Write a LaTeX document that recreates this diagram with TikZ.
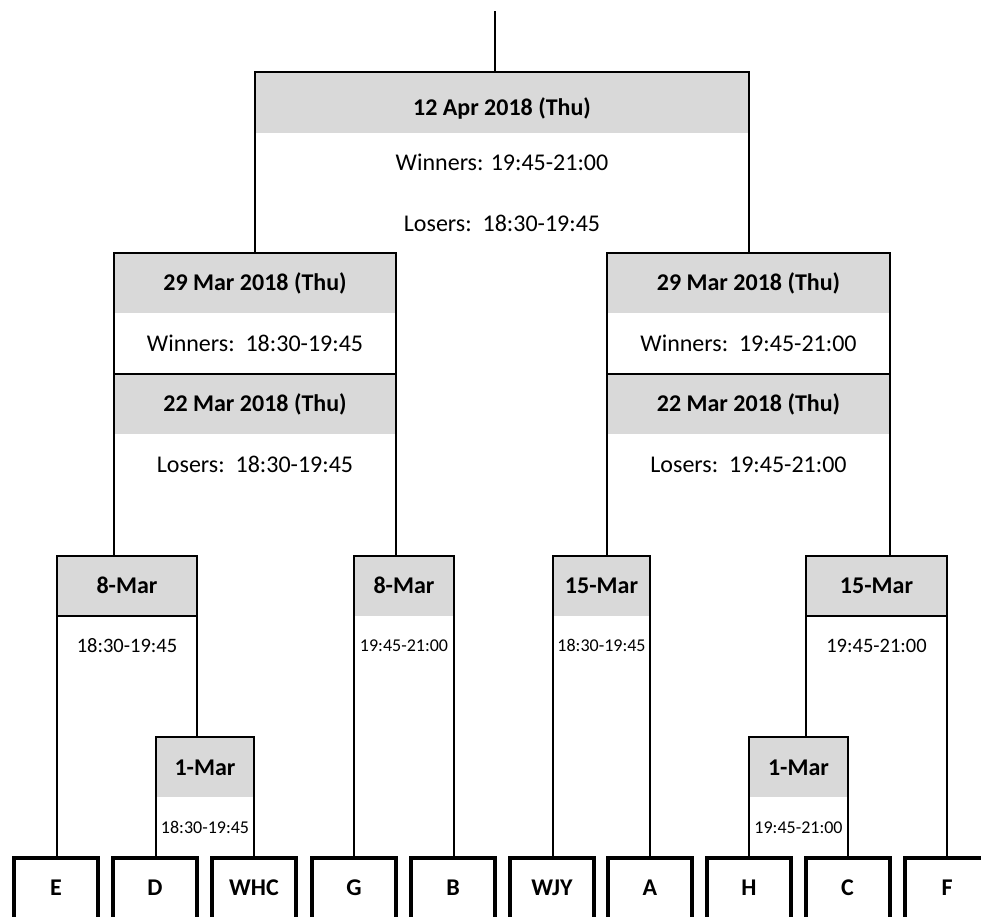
\documentclass[tikz,border=0pt]{standalone}
\usepackage{fontspec}
\setmainfont{Carlito}
\definecolor{hdrgray}{RGB}{217,217,217}
\begin{document}
\begin{tikzpicture}[x=1pt,y=-1pt,line width=2pt,
  hdr/.style={fill=hdrgray,draw=none,inner sep=0pt,outer sep=0pt},
  bold/.style={inner sep=0pt,anchor=base,font=\bfseries\fontsize{24}{28}\selectfont},
  big/.style={inner sep=0pt,anchor=base,font=\fontsize{24}{28}\selectfont},
  mid/.style={inner sep=0pt,anchor=base,font=\fontsize{20.5}{24}\selectfont},
  small/.style={inner sep=0pt,anchor=base,font=\fontsize{18}{22}\selectfont},
  team/.style={minimum width=84pt,minimum height=60pt,inner sep=0pt,outer sep=0pt,
    text height=15.5pt,text depth=0pt,font=\bfseries\fontsize{24}{28}\selectfont},
  teamline/.style={line width=4pt}]
\useasboundingbox (0,0) rectangle (981,916);
\clip (0,0) rectangle (981,916);

% header fills
\node[hdr,minimum width=494pt,minimum height=61pt] (topH) at (502,102.5) {};
\node[hdr,minimum width=282pt,minimum height=60pt] (lmH1) at (255,283) {};
\node[hdr,minimum width=282pt,minimum height=60pt] (lmH2) at (255,404) {};
\node[hdr,minimum width=283pt,minimum height=60pt] (rmH1) at (748.5,283) {};
\node[hdr,minimum width=283pt,minimum height=60pt] (rmH2) at (748.5,404) {};
\node[hdr,minimum width=140pt,minimum height=60pt] (m8L) at (127,586) {};
\node[hdr,minimum width=100pt,minimum height=60pt] (m8R) at (404,586) {};
\node[hdr,minimum width=97pt,minimum height=60pt] (m15L) at (601.5,586) {};
\node[hdr,minimum width=141pt,minimum height=60pt] (m15R) at (876.5,586) {};
\node[hdr,minimum width=98pt,minimum height=60pt] (m1L) at (205,767) {};
\node[hdr,minimum width=99pt,minimum height=60pt] (m1R) at (798.5,767) {};

% texts
\node[bold] (tTop) at (502,115) {12 Apr 2018 (Thu)};
\node[big] (tTopW) at (502,170.5) {Winners: 19:45-21:00};
\node[big] (tTopL) at (502,231.5) {Losers:\ \ 18:30-19:45};
\node[bold] (tL1) at (255,290.5) {29 Mar 2018 (Thu)};
\node[big] (tL1W) at (255,351.5) {Winners:\ \ 18:30-19:45};
\node[bold] (tL2) at (255,411.5) {22 Mar 2018 (Thu)};
\node[big] (tL2L) at (255,472) {Losers:\ \ 18:30-19:45};
\node[bold] (tR1) at (748.5,290.5) {29 Mar 2018 (Thu)};
\node[big] (tR1W) at (748.5,351.5) {Winners:\ \ 19:45-21:00};
\node[bold] (tR2) at (748.5,411.5) {22 Mar 2018 (Thu)};
\node[big] (tR2L) at (748.5,472) {Losers:\ \ 19:45-21:00};
\node[bold] (t8L) at (127,593) {8-Mar};
\node[mid] (t8Lt) at (127,652) {18:30-19:45};
\node[bold] (t8R) at (404,593) {8-Mar};
\node[small] (t8Rt) at (404,651.5) {19:45-21:00};
\node[bold] (t15L) at (601.5,593) {15-Mar};
\node[small] (t15Lt) at (601.5,651.5) {18:30-19:45};
\node[bold] (t15R) at (876.5,593) {15-Mar};
\node[mid] (t15Rt) at (876.5,652) {19:45-21:00};
\node[bold] (t1L) at (205,775) {1-Mar};
\node[small] (t1Lt) at (205,833) {18:30-19:45};
\node[bold] (t1R) at (798.5,775) {1-Mar};
\node[small] (t1Rt) at (798.5,833) {19:45-21:00};

% teams
\node[team] (E) at (56,888) {E};
\node[team] (D) at (155,888) {D};
\node[team] (WHC) at (254,888) {WHC};
\node[team] (G) at (354,888) {G};
\node[team] (B) at (453,888) {B};
\node[team] (WJY) at (552,888) {WJY};
\node[team] (A) at (650,888) {A};
\node[team] (H) at (749,888) {H};
\node[team] (C) at (847.5,888) {C};
\node[team] (F) at (947,888) {F};
\foreach \t in {E,D,WHC,G,B,WJY,A,H,C,F}
  \draw[teamline] (\t.south west) -- (\t.north west) -- (\t.north east) -- (\t.south east);

% root line
\coordinate (root) at (495,11);
\draw (root) -- (root |- topH.north);
% final box
\draw (topH.north west |- lmH1.north) -- (topH.north west) -- (topH.north east) -- (topH.north east |- rmH1.north);
% left middle box
\draw (lmH1.north west |- m8L.north) -- (lmH1.north west) -- (lmH1.north east) -- (lmH1.north east |- m8R.north);
\draw (lmH2.north west) -- (lmH2.north east);
% right middle box
\draw (rmH1.north west |- m15L.north) -- (rmH1.north west) -- (rmH1.north east) -- (rmH1.north east |- m15R.north);
\draw (rmH2.north west) -- (rmH2.north east);
% 8-Mar left
\draw (m8L.north west |- E.north) -- (m8L.north west) -- (m8L.north east) -- (m8L.north east |- m1L.north);
\draw (m8L.south west) -- (m8L.south east);
% 8-Mar right
\draw (m8R.north west |- G.north) -- (m8R.north west) -- (m8R.north east) -- (m8R.north east |- B.north);
% 15-Mar left
\draw (m15L.north west |- WJY.north) -- (m15L.north west) -- (m15L.north east) -- (m15L.north east |- A.north);
% 15-Mar right
\draw (m15R.north west |- m1R.north) -- (m15R.north west) -- (m15R.north east) -- (m15R.north east |- F.north);
\draw (m15R.south west) -- (m15R.south east);
% 1-Mar boxes
\draw (m1L.north west |- D.north) -- (m1L.north west) -- (m1L.north east) -- (m1L.north east |- WHC.north);
\draw (m1R.north west |- H.north) -- (m1R.north west) -- (m1R.north east) -- (m1R.north east |- C.north);
\end{tikzpicture}
\end{document}
